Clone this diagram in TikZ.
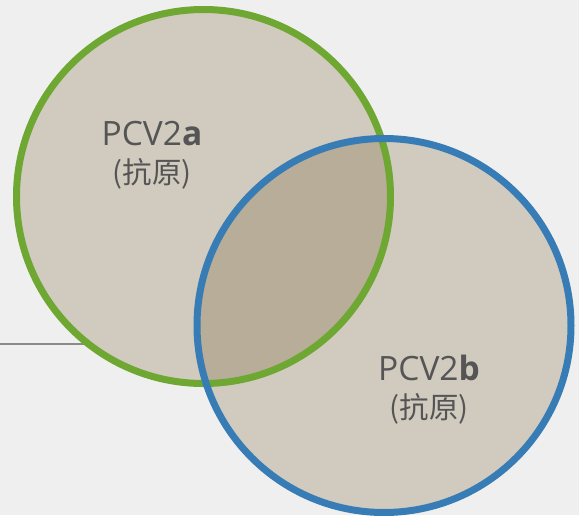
\documentclass[tikz,border=0pt]{standalone}
\usepackage{fontspec}
\setmainfont{Open Sans}
\newfontfamily\cjk{Noto Sans CJK SC}
\definecolor{bgc}{HTML}{EFEFEF}
\definecolor{fillc}{HTML}{D1CBBF}
\definecolor{overc}{HTML}{B7AD98}
\definecolor{greenc}{HTML}{6EA832}
\definecolor{bluec}{HTML}{387CB5}
\definecolor{txtc}{HTML}{555555}
\definecolor{linec}{HTML}{8A8A8A}
\tikzset{
  lbl/.style={text=txtc, inner sep=0pt, anchor=base},
  ring/.style={line width=7pt},
}
\begin{document}
\begin{tikzpicture}[x=1pt,y=-1pt]
\fill[bgc] (0,0) rectangle (579,515);
\useasboundingbox (0,0) rectangle (579,515);
\coordinate (ca) at (203.5,196.5);
\coordinate (cb) at (384,325.5);
\coordinate (lineend) at (0,344);
\coordinate (linestart) at (90,344);
\draw[linec, line width=1.3pt] (lineend) -- (linestart);
\fill[fillc] (ca) circle (187);
\fill[fillc] (cb) circle (187);
\begin{scope}
  \clip (ca) circle (187);
  \fill[overc] (cb) circle (187);
\end{scope}
\draw[greenc, ring] (ca) circle (187);
\draw[bluec, ring] (cb) circle (187);
\node[lbl, font=\fontsize{33.5}{36}\selectfont] (ta) at (152,145) {PCV2\textbf{a}};
\node[lbl, font=\fontsize{29.5}{32}\cjk] (tan) at (152,183) {(抗原)};
\node[lbl, font=\fontsize{33.5}{36}\selectfont] (tb) at (429,380) {PCV2\textbf{b}};
\node[lbl, font=\fontsize{29.5}{32}\cjk] (tbn) at (429,418) {(抗原)};
\end{tikzpicture}
\end{document}
